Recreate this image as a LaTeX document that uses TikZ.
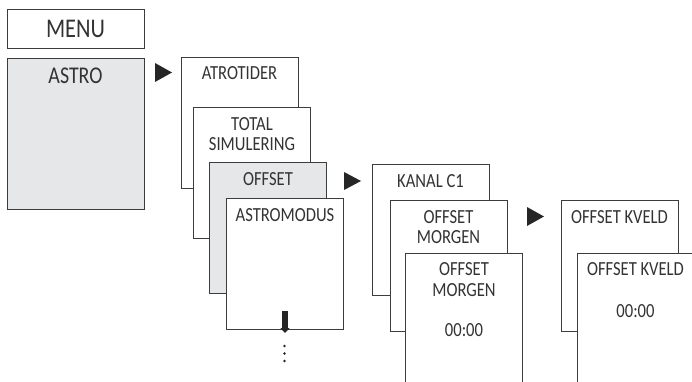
\documentclass[tikz,border=0pt]{standalone}
\usepackage{fontspec}
\setmainfont[FakeStretch=0.83]{Carlito}
\usepackage{xcolor}
\usetikzlibrary{positioning,arrows.meta}
\definecolor{linegray}{HTML}{3C3C3C}
\definecolor{fillgray}{HTML}{E6E7E8}
\definecolor{textgray}{HTML}{333333}

\begin{document}
\begin{tikzpicture}[x=1pt,y=-1pt,
  screen/.style={rectangle,draw=linegray,line width=0.9pt,fill=white,minimum width=117pt,minimum height=131pt,inner sep=0pt},
  title/.style={anchor=north,inner sep=0pt,align=center,text=textgray,font=\fontsize{20}{20.5}\selectfont},
  marker/.style={fill=black!85}]
\useasboundingbox (0,0) rectangle (692,382);
\clip (0,0) rectangle (692,382);

% main menu
\node at (75.5,28.5) [rectangle,minimum width=137pt,minimum height=39pt,inner sep=0pt,draw=linegray,line width=0.9pt,text=textgray,font=\fontsize{27}{28}\selectfont] (menu) {MENU};
\node at (75.5,133.5) [screen,minimum width=137pt,minimum height=151pt,fill=fillgray] (astro) {};
\node [title,below=10pt of astro.north,font=\fontsize{24}{26}\selectfont] (astrotxt) {ASTRO};
\fill[marker] (155,63) -- (155,82) -- (172,72.5) -- cycle;

% astro submenu
\node at (239.5,122.5) [screen] (atrotider) {};
\node [title,below=10pt of atrotider.north] (atrotidertxt) {ATROTIDER};
\node at (252,172.5) [screen] (simulering) {};
\node [title,below=10.5pt of simulering.north] (simuleringtxt) {TOTAL\\SIMULERING};
\node at (268,227.5) [screen,fill=fillgray] (offset) {};
\node [title,below=10.5pt of offset.north] (offsettxt) {OFFSET};
\node at (285,263.5) [screen] (astromodus) {};
\node [title,below=10.5pt of astromodus.north] (astromodustxt) {ASTROMODUS};
\coordinate (scrolltop) at (285,311);
\coordinate (scrollend) at (285,333);
\draw[line width=6pt,black!85,-{Triangle[width=9pt,length=5pt]}] (scrolltop) -- (scrollend);
\foreach \y in {346,353.5,361}
  \fill[black!85] (284.5,\y) circle (1.4);
\fill[marker] (344,172) -- (344,190) -- (361,181) -- cycle;

% offset submenu
\node at (430.5,229.5) [screen] (kanal) {};
\node [title,below=10.5pt of kanal.north] (kanaltxt) {KANAL C1};
\node at (448.5,265.5) [screen] (morgen) {};
\node [title,below=10.5pt of morgen.north] (morgentxt) {OFFSET\\MORGEN};
\node at (464,318.5) [screen] (morgenval) {};
\node [title,below=10pt of morgenval.north] (morgenvaltxt) {OFFSET\\MORGEN\\[20pt]00:00};
\fill[marker] (527,207) -- (527,226) -- (544,216.5) -- cycle;

% kveld
\node at (619.5,265.5) [screen] (kveld) {};
\node [title,below=10.5pt of kveld.north] (kveldtxt) {OFFSET KVELD};
\node at (635.5,318.5) [screen] (kveldval) {};
\node [title,below=10pt of kveldval.north] (kveldvaltxt) {OFFSET KVELD\\[21pt]00:00};
\end{tikzpicture}
\end{document}
